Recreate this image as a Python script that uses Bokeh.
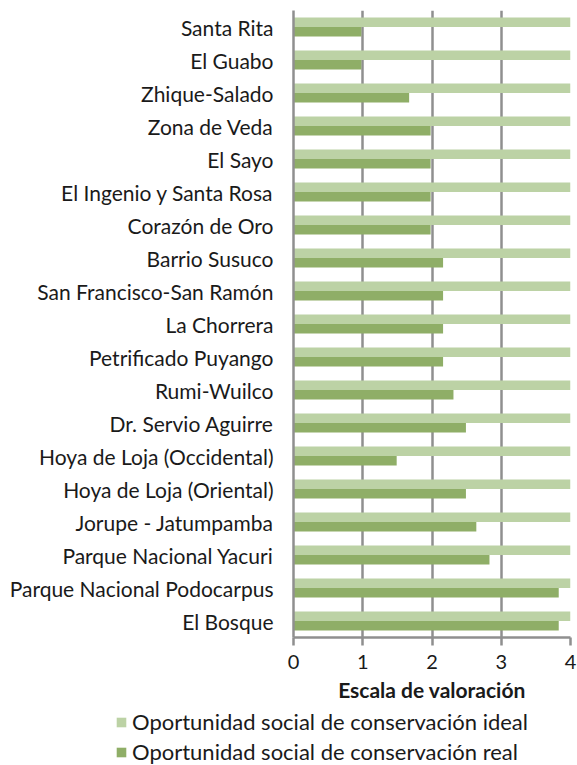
from bokeh.plotting import figure
from bokeh.models import ColumnDataSource, FactorRange, Range1d, Legend, LegendItem, FixedTicker
from bokeh.layouts import column
from bokeh.transform import dodge
from bokeh.embed import file_html
from bokeh.resources import INLINE

categories = [
    "Santa Rita", "El Guabo", "Zhique-Salado", "Zona de Veda", "El Sayo",
    "El Ingenio y Santa Rosa", "Corazón de Oro", "Barrio Susuco",
    "San Francisco-San Ramón", "La Chorrera", "Petrificado Puyango",
    "Rumi-Wuilco", "Dr. Servio Aguirre", "Hoya de Loja (Occidental)",
    "Hoya de Loja (Oriental)", "Jorupe - Jatumpamba", "Parque Nacional Yacuri",
    "Parque Nacional Podocarpus", "El Bosque",
]
ideal = [4, 4, 4, 4, 4, 4, 4, 4, 4, 4, 4, 4, 4, 4, 4, 4, 4, 4, 4]
real = [0.98, 0.98, 1.67, 1.98, 1.98, 1.98, 1.98, 2.16, 2.16, 2.16, 2.16,
        2.31, 2.49, 1.49, 2.49, 2.64, 2.83, 3.83, 3.83]
x_ticks = [0, 1, 2, 3, 4]
series_names = ["Oportunidad social de conservación ideal",
                "Oportunidad social de conservación real"]

FONT = "Lato"
TEXT = "#1a1a1a"
GRID = "#8f8f8f"
LIGHT = "#bcd2a5"
DARK = "#8fae67"

src = ColumnDataSource(dict(cat=categories, ideal=ideal, real=real))

p = figure(
    width=577, height=708,
    y_range=FactorRange(*list(reversed(categories)), range_padding=0),
    x_range=Range1d(0, 4),
    output_backend="svg", toolbar_location=None,
    min_border_left=293, min_border_right=7, min_border_top=10, min_border_bottom=71,
)
p.outline_line_color = None

r_ideal = p.hbar(y=dodge("cat", 0.145, range=p.y_range), right="ideal", left=0,
                 height=0.29, source=src, fill_color=LIGHT, line_color=None)
r_real = p.hbar(y=dodge("cat", -0.145, range=p.y_range), right="real", left=0,
                height=0.29, source=src, fill_color=DARK, line_color=None)

p.ygrid.grid_line_color = None
p.xgrid.grid_line_color = GRID
p.xgrid.grid_line_width = 2.5
p.xaxis.ticker = FixedTicker(ticks=x_ticks)
p.xaxis.axis_line_color = GRID
p.xaxis.axis_line_width = 2.5
p.xaxis.major_tick_line_color = GRID
p.xaxis.major_tick_line_width = 2.5
p.xaxis.major_tick_out = 8
p.xaxis.major_tick_in = 0
p.xaxis.minor_tick_line_color = None
p.xaxis.major_label_text_font = FONT
p.xaxis.major_label_text_font_size = "20px"
p.xaxis.major_label_text_color = TEXT
p.xaxis.major_label_standoff = 9
p.xaxis.axis_label = "Escala de valoración"
p.xaxis.axis_label_text_font = FONT
p.xaxis.axis_label_text_font_style = "bold"
p.xaxis.axis_label_text_font_size = "21px"
p.xaxis.axis_label_text_color = TEXT
p.xaxis.axis_label_standoff = 5

p.yaxis.axis_line_color = GRID
p.yaxis.axis_line_width = 2.5
p.yaxis.major_tick_line_color = None
p.yaxis.minor_tick_line_color = None
p.yaxis.major_label_text_font = FONT
p.yaxis.major_label_text_font_size = "21px"
p.yaxis.major_label_text_color = TEXT
p.yaxis.major_label_standoff = 14

# legend strip below the chart (its bars are hidden; they only feed the legend swatches)
lg = figure(
    width=577, height=57, x_range=Range1d(0, 4), y_range=FactorRange(*categories),
    output_backend="svg", toolbar_location=None,
    min_border_left=115, min_border_right=0, min_border_top=0, min_border_bottom=0,
)
lg.frame_align = False
lg.axis.visible = False
lg.grid.visible = False
lg.outline_line_color = None
l_ideal = lg.hbar(y="cat", right="ideal", left=0, height=0.5, source=src,
                  fill_color=LIGHT, line_color=None, visible=False)
l_real = lg.hbar(y="cat", right="real", left=0, height=0.5, source=src,
                 fill_color=DARK, line_color=None, visible=False)

legend = Legend(
    items=[LegendItem(label=series_names[0], renderers=[l_ideal]),
           LegendItem(label=series_names[1], renderers=[l_real])],
    location="top_left",
    orientation="vertical",
    glyph_width=12, glyph_height=12,
    label_text_font=FONT, label_text_font_size="22px", label_text_color=TEXT,
    label_height=20, label_standoff=5, spacing=3, padding=0, margin=0,
    border_line_color=None, background_fill_alpha=0,
)
lg.add_layout(legend, "center")

layout = column(p, lg, spacing=0)
open("out.html", "w").write(file_html(layout, INLINE))
